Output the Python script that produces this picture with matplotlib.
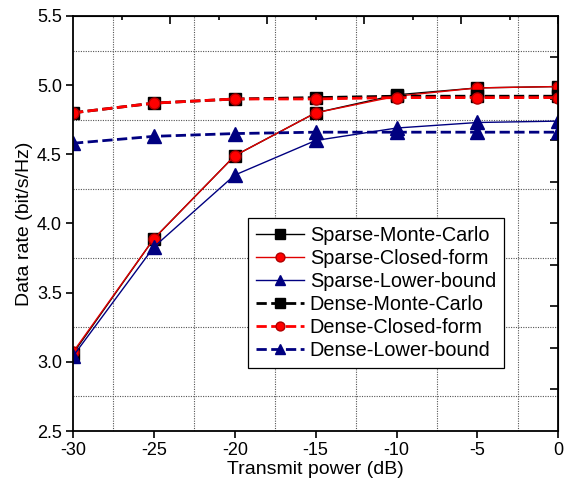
import matplotlib.pyplot as plt
import numpy as np
from matplotlib.ticker import MultipleLocator

plt.rcParams['font.family'] = ['Liberation Sans', 'DejaVu Sans']
plt.rcParams['axes.unicode_minus'] = False

# transmit power (dB)
power = [-30, -25, -20, -15, -10, -5, 0]

# data rates (bit/s/Hz)
sparse_mc = [3.06, 3.89, 4.49, 4.80, 4.93, 4.98, 4.99]
sparse_cf = [3.07, 3.89, 4.49, 4.80, 4.92, 4.98, 4.99]
sparse_lb = [3.04, 3.83, 4.35, 4.60, 4.69, 4.73, 4.74]
dense_mc = [4.80, 4.87, 4.90, 4.91, 4.92, 4.92, 4.92]
dense_cf = [4.80, 4.87, 4.90, 4.90, 4.91, 4.91, 4.91]
dense_lb = [4.58, 4.63, 4.65, 4.66, 4.66, 4.66, 4.66]

navy = '#000080'

fig = plt.figure(figsize=(5.64, 4.84), dpi=100)
ax = fig.add_axes([0.1294, 0.1095, 0.8606, 0.8575])

ax.plot(power, sparse_mc, '-s', color='black', lw=1, ms=8.5, mfc='black', mec='black', label='Sparse-Monte-Carlo')
ax.plot(power, sparse_cf, '-o', color='#e00000', lw=1, ms=8, mfc='red', mec='#b00000', label='Sparse-Closed-form')
ax.plot(power, sparse_lb, '-^', color=navy, lw=1, ms=9.5, mfc=navy, mec=navy, label='Sparse-Lower-bound')
ax.plot(power, dense_mc, '--s', color='black', lw=2, ms=8.5, mfc='black', mec='black', label='Dense-Monte-Carlo')
ax.plot(power, dense_cf, '--o', color='red', lw=2, ms=8, mfc='red', mec='#b00000', label='Dense-Closed-form')
ax.plot(power, dense_lb, '--^', color=navy, lw=2, ms=9.5, mfc=navy, mec=navy, label='Dense-Lower-bound')

ax.set_xlim(-30, 0)
ax.set_ylim(2.5, 5.5)
ax.xaxis.set_major_locator(MultipleLocator(5))
ax.yaxis.set_major_locator(MultipleLocator(0.5))
ax.set_yticks(np.arange(2.75, 5.5, 0.5), minor=True)
ax.set_xticks(np.arange(-27.5, 0, 5), minor=True)
ax.yaxis.set_major_formatter(plt.FormatStrFormatter('%.1f'))
ax.tick_params(which='major', direction='out', length=5, width=1.2, labelsize=13, pad=3)
ax.tick_params(which='minor', length=0)
ax.grid(which='minor', color='#555555', linestyle=(0, (1, 1.2)), linewidth=0.8)
for s in ax.spines.values():
    s.set_linewidth(1.3)

# mirrored axes with their own tick spacing
top = ax.secondary_xaxis('top')
top.set_xticks(np.arange(-24, 0.1, 6))
top.set_xticks(np.arange(-27, 0, 6), minor=True)
top.tick_params(which='major', direction='in', length=6, width=1.2, labeltop=False)
top.tick_params(which='minor', direction='in', length=3, width=1.2)
right = ax.secondary_yaxis('right')
right.set_yticks(np.arange(3.1, 5.5, 0.6))
right.set_yticks(np.arange(2.8, 5.5, 0.6), minor=True)
right.tick_params(which='major', direction='in', length=6, width=1.2, labelright=False)
right.tick_params(which='minor', direction='in', length=6, width=1.2)

ax.set_xlabel('Transmit power (dB)', fontsize=14, labelpad=1)
ax.set_ylabel('Data rate (bit/s/Hz)', fontsize=14, labelpad=3)

leg = ax.legend(loc='upper left', bbox_to_anchor=(0.361, 0.513), fontsize=14.3, fancybox=False,
                edgecolor='black', framealpha=1, handlelength=2.4, borderpad=0.4,
                labelspacing=0.2, handletextpad=0.3, markerscale=0.8, borderaxespad=0)
leg.get_frame().set_linewidth(0.9)

fig.savefig('out.png', dpi=100)
